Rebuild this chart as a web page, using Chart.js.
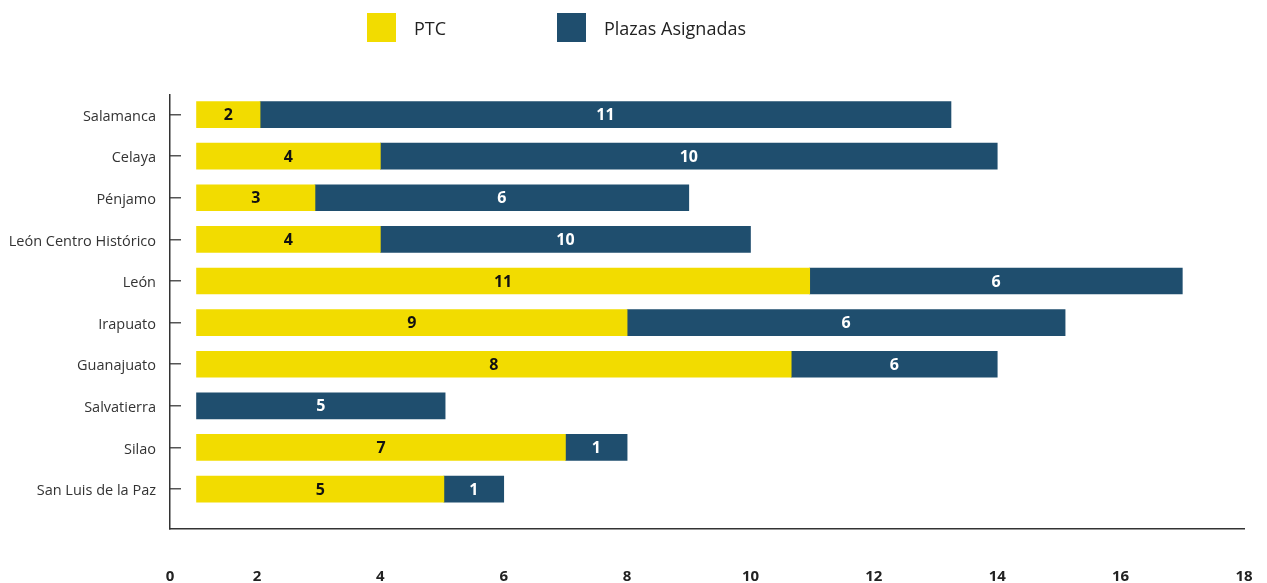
<!DOCTYPE html>
<html>
<head>
<meta charset="utf-8">
<script src="https://cdn.jsdelivr.net/npm/chart.js@4"></script>
<style>
  body { margin: 0; background: #fff; font-family: 'Open Sans', sans-serif; }
  #wrap { position: relative; width: 1267px; height: 583px; }
  #legend { position: absolute; left: 367px; top: 13px; display: flex; }
  .item { display: flex; align-items: center; font-size: 18px; color: #222; }
  .item span.box { width: 29px; height: 29px; margin-right: 18px; }
  .item:first-child { width: 190px; }
</style>
</head>
<body>
<div id="wrap">
  <div id="legend"></div>
  <canvas id="chart"></canvas>
</div>
<script>
const cities = ['Salamanca', 'Celaya', 'Pénjamo', 'León Centro Histórico', 'León',
  'Irapuato', 'Guanajuato', 'Salvatierra', 'Silao', 'San Luis de la Paz'];

// numbers printed on the bars
const ptc    = [2, 4, 3, 4, 11, 9, 8, null, 7, 5];
const plazas = [11, 10, 6, 10, 6, 6, 6, 5, 1, 1];

// where the bars actually end on the axis (they don't always match the labels)
const barStart  = 1.02;
const ptcEnd    = [2.05, 4, 2.94, 4, 10.96, 8, 10.66, null, 7, 5.03];
const plazasEnd = [13.25, 14, 9, 10, 17, 15.1, 14, 5.05, 8, 6];

const xTicks = [0, 2, 4, 6, 8, 10, 12, 14, 16, 18];

const YELLOW = '#f2dc00';
const NAVY = '#1f4e6e';

Chart.defaults.font.family = "'Open Sans', sans-serif";

const legend = document.getElementById('legend');
[['PTC', YELLOW], ['Plazas Asignadas', NAVY]].forEach(([t, c]) => {
  const d = document.createElement('div');
  d.className = 'item';
  d.innerHTML = '<span class="box" style="background:' + c + '"></span><span>' + t + '</span>';
  legend.appendChild(d);
});

const ptcData = cities.map((c, i) => ({ x: [barStart, ptcEnd[i]], y: i, v: ptc[i] }))
  .filter(d => d.x[1] != null);
const plazasData = cities.map((c, i) => ({ x: [ptcEnd[i] ?? barStart, plazasEnd[i]], y: i, v: plazas[i] }));

const barLabels = {
  id: 'barLabels',
  afterDatasetsDraw(chart) {
    const { ctx } = chart;
    ctx.save();
    ctx.font = "bold 16px 'Open Sans', sans-serif";
    ctx.textAlign = 'center';
    ctx.textBaseline = 'middle';
    chart.data.datasets.forEach((ds, di) => {
      chart.getDatasetMeta(di).data.forEach((bar, i) => {
        ctx.fillStyle = ds.labelColor;
        ctx.fillText(ds.data[i].v, (bar.x + bar.base) / 2, bar.y + 1);
      });
    });
    ctx.restore();
  }
};

// tick padding would otherwise be added around the chart area
const noPad = s => { s.paddingTop = s.paddingBottom = s.paddingLeft = s.paddingRight = 0; };

new Chart(document.getElementById('chart'), {
  type: 'bar',
  data: {
    datasets: [
      { label: 'PTC', labelColor: '#111', data: ptcData,
        backgroundColor: YELLOW, barThickness: 26, grouped: false },
      { label: 'Plazas Asignadas', labelColor: '#fff', data: plazasData,
        backgroundColor: NAVY, barThickness: 26, grouped: false }
    ]
  },
  options: {
    indexAxis: 'y',
    responsive: true,
    maintainAspectRatio: false,
    animation: false,
    layout: { padding: { top: 95, right: 23, bottom: 0, left: 0 } },
    plugins: { legend: { display: false }, tooltip: { enabled: false } },
    scales: {
      x: {
        type: 'linear', min: 0.59, max: 18,
        afterBuildTicks: s => { s.ticks = xTicks.map(v => ({ value: Math.max(v, s.min) })); },
        afterFit: s => { s.height = 54; noPad(s); },
        ticks: { callback: (v, i) => String(xTicks[i]), autoSkip: false, maxRotation: 0,
          padding: 39, color: '#222', font: { size: 15, weight: 'bold' } },
        grid: { display: false, drawTicks: false },
        border: { color: '#333', width: 1.5 }
      },
      y: {
        type: 'linear', reverse: true, min: -0.47, max: 9.96, offset: false,
        afterBuildTicks: s => { s.ticks = cities.map((c, i) => ({ value: i })); },
        afterFit: s => { s.width = 170; noPad(s); },
        ticks: { callback: (v, i) => cities[i], autoSkip: false, padding: 25, labelOffset: 2,
          color: '#333', font: { size: 14.5 } },
        grid: { offset: false, drawOnChartArea: false, drawTicks: true, tickLength: -11,
          color: '#555', lineWidth: 1.5 },
        border: { color: '#333', width: 1.5 }
      }
    }
  },
  plugins: [barLabels]
});
</script>
</body>
</html>
